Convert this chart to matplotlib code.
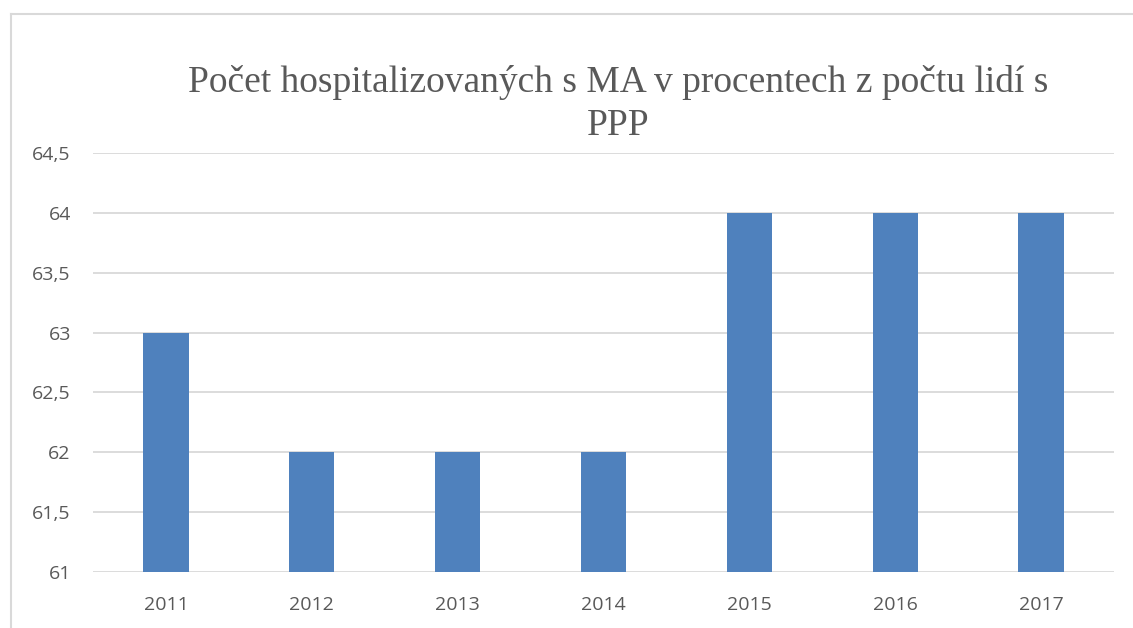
import matplotlib.pyplot as plt
from matplotlib.lines import Line2D

years = ['2011', '2012', '2013', '2014', '2015', '2016', '2017']
values = [63, 62, 62, 62, 64, 64, 64]
yticks = [61, 61.5, 62, 62.5, 63, 63.5, 64, 64.5]
ytick_labels = ['61', '61,5', '62', '62,5', '63', '63,5', '64', '64,5']

fig = plt.figure(figsize=(11.33, 6.28), dpi=100)
ax = fig.add_axes([93 / 1133, 1 - 572 / 628, (1114 - 93) / 1133, (572 - 153) / 628])

ax.bar(range(len(years)), values, width=0.31, color='#4f81bd', zorder=3)
ax.set_ylim(61, 64.5)
ax.set_xlim(-0.5, len(years) - 0.5)
ax.set_yticks(yticks)
ax.set_yticklabels(ytick_labels)
ax.set_xticks(range(len(years)))
ax.set_xticklabels(years)

ax.grid(axis='y', color='#d9d9d9', linewidth=1.3, zorder=0)
for s in ax.spines.values():
    s.set_visible(False)
ax.tick_params(axis='both', length=0, labelsize=14, labelcolor='#595959')
ax.tick_params(axis='y', pad=16)
ax.tick_params(axis='x', pad=17.5)
for lbl in ax.get_xticklabels() + ax.get_yticklabels():
    lbl.set_family('Open Sans')

fig.text(618 / 1133, 1 - 104 / 628, 'Počet hospitalizovaných s MA v procentech z počtu lidí s\nPPP',
         ha='center', va='center', fontsize=27, family='Liberation Serif',
         color='#595959', linespacing=1.3)

# frame around the chart area
fig.add_artist(Line2D([11 / 1133, 1], [1 - 14 / 628, 1 - 14 / 628],
                      transform=fig.transFigure, color='#d9d9d9', linewidth=1.5))
fig.add_artist(Line2D([11 / 1133, 11 / 1133], [0, 1 - 14 / 628],
                      transform=fig.transFigure, color='#d9d9d9', linewidth=1.5))

fig.savefig('out.png', dpi=100)
